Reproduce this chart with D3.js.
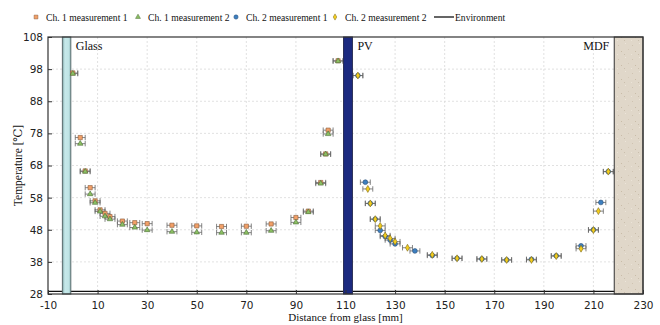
<!DOCTYPE html>
<html>
<head>
<meta charset="utf-8">
<script src="https://cdn.jsdelivr.net/npm/d3@7"></script>
<style>
  html, body { margin: 0; padding: 0; background: #fff; }
  svg { display: block; }
  .serif { font-family: "Liberation Serif", "DejaVu Serif", serif; fill: #111; }
  .tick text { font-family: "DejaVu Sans", "Liberation Sans", sans-serif; font-size: 10.5px; fill: #222; }
</style>
</head>
<body>
<svg id="chart" width="660" height="325"></svg>
<script>
// Channel 1: between glass and PV panel
const ch1X = [0, 3, 5, 7, 9, 11, 13, 15, 20, 25, 30, 40, 50, 60, 70, 80, 90, 95, 100, 102, 103, 107];
const ch1Meas1 = [96.8, 76.7, 66.3, 61.1, 57.0, 54.2, 53.1, 52.1, 50.7, 50.2, 49.9, 49.4, 49.2, 49.0, 49.1, 49.8, 51.8, 53.8, 62.7, 71.6, 79.0, 100.6];
const ch1Meas2 = [96.6, 74.8, 66.1, 59.1, 56.4, 53.7, 52.2, 51.3, 49.6, 48.7, 47.9, 47.4, 47.2, 47.1, 47.1, 47.7, 50.3, 53.5, 62.4, 71.5, 77.8, 100.5];

// Channel 2: between PV panel and MDF board
const ch2X1 = [115, 118, 120, 122, 124, 126, 128, 130, 138, 145, 155, 165, 175, 185, 195, 205, 210, 213, 216];
const ch2Meas1 = [96.0, 62.8, 56.2, 51.3, 47.8, 45.9, 44.8, 43.6, 41.4, 40.0, 39.1, 38.9, 38.6, 38.8, 39.9, 43.0, 48.0, 56.5, 66.1];
const ch2X2 = [115, 119, 120, 122, 124, 126, 128, 130, 135, 145, 155, 165, 175, 185, 195, 205, 210, 212, 216];
const ch2Meas2 = [96.0, 60.7, 56.2, 51.3, 49.2, 46.2, 45.3, 44.3, 42.4, 40.2, 39.1, 38.9, 38.6, 38.6, 39.8, 42.1, 47.9, 53.8, 66.1];

const xErr = 2;            // position uncertainty [mm]
const environmentT = 28.8; // ambient temperature [°C]

const xTicks = [-10, 10, 30, 50, 70, 90, 110, 130, 150, 170, 190, 210, 230];
const yTicks = [28, 38, 48, 58, 68, 78, 88, 98, 108];

// Layers in the stack [mm]
const glassSpan = [-4.2, -0.8];
const pvSpan = [109.2, 112.8];
const mdfSpan = [218.4, 230];

const svg = d3.select("#chart");
const W = 660, H = 325;
const m = { left: 48, right: 17, top: 37, bottom: 31 };
const iw = W - m.left - m.right, ih = H - m.top - m.bottom;

const x = d3.scaleLinear().domain([-10, 230]).range([m.left, m.left + iw]);
const y = d3.scaleLinear().domain([28, 108]).range([m.top + ih, m.top]);

const defs = svg.append("defs");
const gGrad = defs.append("linearGradient").attr("id", "glassGrad").attr("x1", 0).attr("x2", 1);
gGrad.append("stop").attr("offset", "0%").attr("stop-color", "#7fa5a7");
gGrad.append("stop").attr("offset", "30%").attr("stop-color", "#c6e9ea");
gGrad.append("stop").attr("offset", "75%").attr("stop-color", "#bfe4e5");
gGrad.append("stop").attr("offset", "100%").attr("stop-color", "#8fb8ba");

// speckled board texture
const pat = defs.append("pattern").attr("id", "mdfPat").attr("patternUnits", "userSpaceOnUse")
  .attr("width", 14).attr("height", 14);
pat.append("rect").attr("width", 14).attr("height", 14).attr("fill", "#e0d7c9");
[[2, 3, "#cfc3b1"], [9, 1, "#ece5da"], [5, 9, "#c9bca8"], [12, 7, "#d4c9b8"], [1, 12, "#ebe4d8"], [8, 12, "#cabfad"]]
  .forEach(([px, py, c]) => pat.append("rect").attr("x", px).attr("y", py).attr("width", 1).attr("height", 1).attr("fill", c));

// grid
const grid = svg.append("g").attr("stroke", "#d9d9d9").attr("stroke-width", 0.8).attr("stroke-dasharray", "2,2");
grid.selectAll(".gx").data(xTicks.slice(1, -1)).join("line")
  .attr("x1", d => x(d)).attr("x2", d => x(d)).attr("y1", m.top).attr("y2", m.top + ih);
grid.selectAll(".gy").data(yTicks.slice(1, -1)).join("line")
  .attr("x1", m.left).attr("x2", m.left + iw).attr("y1", d => y(d)).attr("y2", d => y(d));

// environment line
svg.append("line").attr("x1", m.left).attr("x2", m.left + iw)
  .attr("y1", y(environmentT)).attr("y2", y(environmentT))
  .attr("stroke", "#111").attr("stroke-width", 1.2);

const series = [
  { xs: ch1X, ys: ch1Meas1, shape: d3.symbolSquare, size: 18, fill: "#f2a068", stroke: "#8a5a3a" },
  { xs: ch1X, ys: ch1Meas2, shape: d3.symbolTriangle, size: 13, fill: "#8cc063", stroke: "#4a6b35" },
  { xs: ch2X1, ys: ch2Meas1, shape: d3.symbolCircle, size: 18, fill: "#3d7fc0", stroke: "#2a4f75" },
  { xs: ch2X2, ys: ch2Meas2, shape: d3.symbolDiamond, size: 14, fill: "#f3cd1e", stroke: "#7c6a1c" }
];

// error bars
const eb = svg.append("g").attr("stroke", "#666").attr("stroke-width", 0.8).attr("fill", "none");
series.forEach(s => {
  const pts = s.xs.map((v, i) => [v, s.ys[i]]);
  const g = eb.append("g");
  g.selectAll("path").data(pts).join("path")
    .attr("d", d => {
      const x0 = x(d[0] - xErr), x1 = x(d[0] + xErr), yy = y(d[1]);
      return `M${x0},${yy}H${x1}M${x0},${yy - 2.7}V${yy + 2.7}M${x1},${yy - 2.7}V${yy + 2.7}`;
    });
});

// material layers
const layer = (span, fill, stroke) => svg.append("rect")
  .attr("x", x(span[0])).attr("width", x(span[1]) - x(span[0]))
  .attr("y", m.top).attr("height", ih)
  .attr("fill", fill).attr("stroke", stroke).attr("stroke-width", 1);
layer(glassSpan, "url(#glassGrad)", "#5c6e70");
layer(pvSpan, "#1c2a80", "#2a2f55");
layer(mdfSpan, "url(#mdfPat)", "#333");

// markers
series.forEach(s => {
  const pts = s.xs.map((v, i) => [v, s.ys[i]]);
  svg.append("g").selectAll("path").data(pts).join("path")
    .attr("transform", d => `translate(${x(d[0])},${y(d[1])})`)
    .attr("d", d3.symbol().type(s.shape).size(s.size))
    .attr("fill", s.fill).attr("stroke", s.stroke).attr("stroke-width", 0.6);
});

// frame
svg.append("rect").attr("x", m.left).attr("y", m.top).attr("width", iw).attr("height", ih)
  .attr("fill", "none").attr("stroke", "#333").attr("stroke-width", 1.2);

// axes
const xAxis = svg.append("g").attr("transform", `translate(0,${m.top + ih})`)
  .call(d3.axisBottom(x).tickValues(xTicks).tickSize(-4).tickPadding(8).tickFormat(d => String(d)));
const yAxis = svg.append("g").attr("transform", `translate(${m.left},0)`)
  .call(d3.axisLeft(y).tickValues(yTicks).tickSize(-4).tickPadding(5).tickFormat(d => String(d)));
[xAxis, yAxis].forEach(a => {
  a.select(".domain").remove();
  a.selectAll(".tick line").attr("stroke", "#333");
});

// layer names
svg.append("text").attr("class", "serif").attr("x", x(-0.8) + 5).attr("y", 50).attr("font-size", 12).text("Glass");
svg.append("text").attr("class", "serif").attr("x", x(112.8) + 5).attr("y", 50).attr("font-size", 12).text("PV");
svg.append("text").attr("class", "serif").attr("x", x(218.4) - 5).attr("y", 50).attr("font-size", 12)
  .attr("text-anchor", "end").text("MDF");

// axis titles
svg.append("text").attr("class", "serif").attr("x", m.left + iw / 2).attr("y", 321)
  .attr("text-anchor", "middle").attr("font-size", 11).text("Distance from glass [mm]");
svg.append("text").attr("class", "serif").attr("transform", `translate(22,${m.top + ih / 2}) rotate(-90)`)
  .attr("text-anchor", "middle").attr("font-size", 11.5).text("Temperature [℃]");

// legend
const legendItems = [
  { label: "Ch. 1 measurement 1", s: series[0], x: 36 },
  { label: "Ch. 1 measurement 2", s: series[1], x: 138 },
  { label: "Ch. 2 measurement 1", s: series[2], x: 236 },
  { label: "Ch. 2 measurement 2", s: series[3], x: 335 }
];
const lg = svg.append("g");
legendItems.forEach(it => {
  lg.append("path").attr("transform", `translate(${it.x},17)`)
    .attr("d", d3.symbol().type(it.s.shape).size(it.s.size * 0.8))
    .attr("fill", it.s.fill).attr("stroke", it.s.stroke).attr("stroke-width", 0.5);
  lg.append("text").attr("class", "serif").attr("x", it.x + 10).attr("y", 20.5)
    .attr("font-size", 9.6).text(it.label);
});
lg.append("line").attr("x1", 434).attr("x2", 454).attr("y1", 17).attr("y2", 17)
  .attr("stroke", "#111").attr("stroke-width", 1.3);
lg.append("text").attr("class", "serif").attr("x", 455).attr("y", 20.5).attr("font-size", 9.6).text("Environment");
</script>
</body>
</html>
